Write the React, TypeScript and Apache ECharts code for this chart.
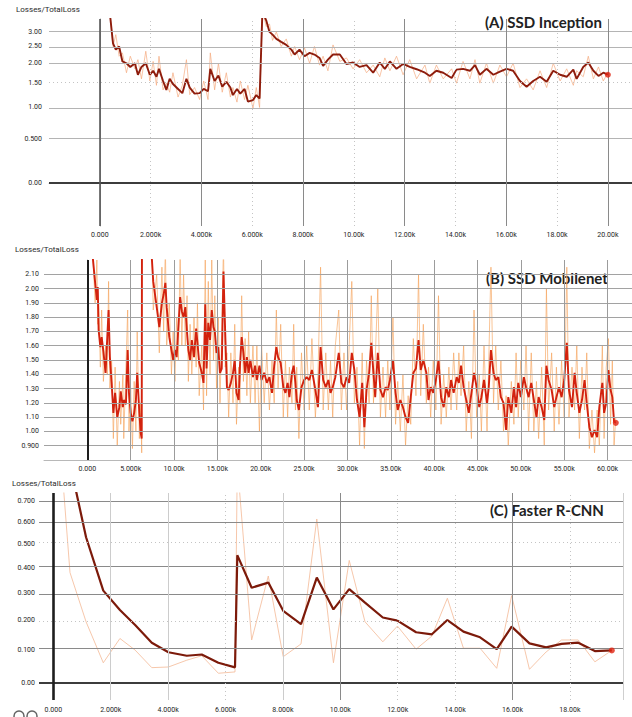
import React, { useEffect, useRef } from "react";
import * as echarts from "echarts";

// ---------- Panel A : SSD Inception (x in thousands of steps) ----------
const aX = [
  0.39, 0.52, 0.63, 0.76, 0.89, 1.05, 1.2, 1.38, 1.5, 1.64,
  1.81, 1.97, 2.1, 2.23, 2.33, 2.49, 2.62, 2.75, 2.88, 3.08,
  3.25, 3.41, 3.54, 3.73, 3.93, 4.09, 4.26, 4.35, 4.52, 4.67,
  4.82, 4.98, 5.14, 5.24, 5.4, 5.53, 5.7, 5.83, 6.03, 6.16,
  6.29, 6.4, 6.55, 6.68, 6.8, 6.95, 7.14, 7.34, 7.54, 7.67,
  7.86, 8.06, 8.26, 8.45, 8.65, 8.79, 8.98, 9.18, 9.45, 9.71,
  9.97, 10.23, 10.5, 10.76, 11.02, 11.22, 11.42, 11.68, 11.94, 12.2,
  12.47, 12.8, 12.99, 13.25, 13.52, 13.85, 14.04, 14.3, 14.57, 14.77,
  14.96, 15.22, 15.49, 15.75, 16.01, 16.27, 16.54, 16.8, 17.06, 17.33,
  17.59, 17.85, 18.12, 18.38, 18.64, 18.77, 19.03, 19.23, 19.43, 19.63,
  19.82, 20.0,
];
const aSmooth = [
  3.8, 2.6, 2.4, 2.5, 2.05, 2.0, 1.9, 2.0, 1.7, 1.9,
  2.0, 1.7, 1.8, 1.65, 1.85, 1.55, 1.35, 1.6, 1.48, 1.37,
  1.28, 1.6, 1.4, 1.27, 1.28, 1.37, 1.32, 1.85, 1.55, 1.68,
  1.42, 1.53, 1.4, 1.24, 1.37, 1.27, 1.37, 1.11, 1.14, 1.24,
  1.17, 3.8, 3.45, 3.0, 2.9, 2.75, 2.65, 2.55, 2.4, 2.25,
  2.4, 2.2, 2.3, 2.25, 2.15, 1.93, 2.1, 2.25, 2.25, 1.98,
  2.02, 1.9, 1.95, 1.75, 2.02, 1.85, 2.05, 1.85, 1.98, 1.9,
  1.84, 1.75, 1.67, 1.8, 1.75, 1.62, 1.83, 1.85, 1.8, 1.95,
  1.7, 1.85, 1.7, 1.78, 1.85, 1.8, 1.55, 1.42, 1.55, 1.65,
  1.53, 1.8, 1.7, 1.65, 1.83, 1.6, 1.9, 2.02, 1.8, 1.67,
  1.75, 1.7,
];
const aRaw = [
  3.9, 2.5, 2.9, 2.2, 2.3, 1.75, 2.2, 1.85, 2.1, 1.6,
  2.35, 1.55, 2.05, 1.45, 2.2, 1.35, 1.5, 1.3, 1.75, 1.2,
  1.45, 2.1, 1.25, 1.4, 1.15, 1.55, 1.15, 2.3, 1.35, 2.0,
  1.3, 1.75, 1.2, 1.4, 1.1, 1.55, 1.15, 1.45, 0.98, 1.4,
  1.0, 3.9, 3.2, 3.3, 2.7, 3.0, 2.5, 2.75, 2.2, 2.5,
  2.1, 2.45, 2.0, 2.5, 1.95, 2.2, 1.8, 2.55, 2.05, 2.15,
  1.85, 2.1, 1.75, 1.95, 1.65, 2.15, 1.8, 2.2, 1.7, 2.1,
  1.6, 1.95, 1.5, 1.95, 1.6, 1.85, 1.5, 2.05, 1.6, 2.1,
  1.5, 2.0, 1.5, 1.95, 1.65, 2.0, 1.4, 1.6, 1.35, 1.8,
  1.4, 2.0, 1.55, 1.85, 1.45, 1.8, 1.65, 2.2, 1.6, 1.9,
  1.55, 1.75,
];
const aYTicks = [0, 0.5, 1, 1.5, 2, 2.5, 3];
const aXTicks = [0, 2, 4, 6, 8, 10, 12, 14, 16, 18, 20];

// ---------- Panel B : SSD Mobilenet ----------
const bX = [
  0.5, 0.9, 1.1, 1.2, 1.3, 1.5, 1.65, 1.85, 2.1, 2.3,
  2.45, 2.6, 2.8, 3.0, 3.2, 3.45, 3.7, 3.85, 4.1, 4.2,
  4.45, 4.65, 4.8, 5.0, 5.2, 5.4, 5.6, 5.75, 6.0, 6.15,
  6.27, 6.3, 7.0, 7.4, 7.6, 8.0, 8.3, 8.6, 8.8, 9.0,
  9.15, 9.45, 9.7, 9.9, 10.1, 10.3, 10.5, 10.7, 10.9, 11.1,
  11.3, 11.5, 11.65, 11.85, 12.05, 12.3, 12.55, 12.7, 12.9, 13.2,
  13.4, 13.6, 13.75, 13.95, 14.15, 14.35, 14.55, 14.7, 14.9, 15.1,
  15.3, 15.5, 15.7, 15.9, 16.1, 16.3, 16.55, 16.8, 17.0, 17.2,
  17.45, 17.6, 17.8, 18.0, 18.2, 18.4, 18.6, 18.8, 19.1, 19.35,
  19.55, 19.85, 20.1, 20.4, 20.7, 21.0, 21.3, 21.55, 21.8, 22.0,
  22.3, 22.6, 22.85, 23.1, 23.3, 23.6, 23.8, 24.0, 24.15, 24.4,
  24.7, 25.0, 25.3, 25.6, 25.9, 26.3, 26.6, 26.9, 27.2, 27.5,
  27.8, 28.05, 28.3, 28.6, 29.0, 29.3, 29.6, 29.9, 30.2, 30.5,
  30.8, 31.1, 31.4, 31.7, 31.95, 32.2, 32.5, 32.75, 33.0, 33.2,
  33.5, 33.8, 34.1, 34.4, 34.65, 34.9, 35.25, 35.55, 35.8, 36.1,
  36.4, 36.7, 37.0, 37.3, 37.6, 37.9, 38.2, 38.45, 38.75, 39.1,
  39.35, 39.6, 39.9, 40.2, 40.5, 40.8, 41.1, 41.4, 41.7, 41.95,
  42.25, 42.6, 42.85, 43.1, 43.4, 43.7, 44.0, 44.3, 44.6, 44.9,
  45.2, 45.45, 45.75, 46.1, 46.3, 46.55, 46.85, 47.1, 47.4, 47.7,
  48.0, 48.3, 48.55, 48.9, 49.2, 49.45, 49.7, 50.0, 50.35, 50.6,
  50.9, 51.2, 51.5, 51.8, 52.05, 52.4, 52.7, 52.95, 53.2, 53.55,
  53.85, 54.1, 54.4, 54.7, 55.0, 55.3, 55.55, 55.9, 56.2, 56.45,
  56.75, 57.05, 57.35, 57.6, 57.9, 58.2, 58.5, 58.8, 59.05, 59.4,
  59.6, 59.85, 60.1, 60.35, 60.55, 60.75, 60.95,
];
const bSmooth = [
  2.3, 2.04, 1.92, 2.01, 1.71, 1.59, 1.66, 1.56, 1.41, 1.66,
  1.85, 1.52, 1.34, 1.13, 1.27, 1.1, 1.17, 1.28, 1.17, 1.22,
  1.19, 1.57, 1.27, 1.13, 1.07, 1.13, 1.22, 1.41, 1.13, 0.99,
  0.95, 2.4, 2.5, 2.25, 2.05, 1.87, 1.73, 1.9, 1.96, 2.04,
  1.87, 1.66, 1.57, 1.5, 1.57, 1.52, 1.73, 1.94, 1.84, 1.8,
  1.87, 1.69, 1.57, 1.5, 1.64, 1.52, 1.72, 1.62, 1.48, 1.41,
  1.34, 1.89, 1.44, 1.76, 1.64, 1.85, 1.73, 1.7, 1.55, 1.59,
  1.41, 1.44, 2.12, 1.69, 1.31, 1.29, 1.34, 1.41, 1.5, 1.27,
  1.22, 1.46, 1.66, 1.55, 1.41, 1.52, 1.41, 1.5, 1.38, 1.46,
  1.36, 1.46, 1.36, 1.41, 1.34, 1.38, 1.27, 1.46, 1.59, 1.52,
  1.48, 1.31, 1.27, 1.34, 1.24, 1.41, 1.46, 1.34, 1.22, 1.15,
  1.31, 1.36, 1.38, 1.36, 1.43, 1.29, 1.17, 1.59, 1.36, 1.31,
  1.36, 1.27, 1.31, 1.38, 1.55, 1.34, 1.31, 1.38, 1.34, 1.55,
  1.43, 1.22, 1.1, 1.34, 1.03, 1.29, 1.41, 1.62, 1.41, 1.24,
  1.55, 1.29, 1.24, 1.31, 1.29, 1.36, 1.5, 1.27, 1.15, 1.22,
  1.17, 1.1, 1.06, 1.24, 1.41, 1.44, 1.64, 1.43, 1.5, 1.41,
  1.22, 1.31, 1.27, 1.36, 1.5, 1.24, 1.17, 1.31, 1.24, 1.36,
  1.27, 1.38, 1.34, 1.46, 1.31, 1.22, 1.13, 1.27, 1.41, 1.31,
  1.17, 1.24, 1.36, 1.2, 1.31, 1.57, 1.41, 1.36, 1.38, 1.24,
  1.2, 1.01, 1.24, 1.13, 1.31, 1.17, 1.34, 1.24, 1.38, 1.31,
  1.24, 1.34, 1.22, 1.1, 1.24, 1.17, 1.08, 1.46, 1.36, 1.29,
  1.17, 1.24, 1.31, 1.24, 1.36, 1.62, 1.29, 1.17, 1.41, 1.27,
  1.13, 1.22, 1.36, 1.2, 1.03, 0.96, 1.01, 0.96, 1.17, 1.34,
  1.13, 1.2, 1.43, 1.29, 1.24, 1.07, 1.06,
];
const bRaw = [
  2.4, 1.9, 2.2, 1.75, 1.9, 1.45, 1.85, 1.35, 1.6, 1.4,
  2.05, 1.3, 1.5, 0.95, 1.45, 0.9, 1.35, 1.05, 1.4, 0.95,
  1.45, 1.85, 1.0, 1.3, 0.88, 1.35, 1.0, 1.7, 0.95, 1.2,
  0.85, 2.4, 2.5, 2.4, 1.85, 2.1, 1.55, 2.15, 1.7, 2.3,
  1.6, 1.9, 1.4, 1.7, 1.35, 1.8, 1.5, 2.25, 1.6, 2.1,
  1.6, 1.95, 1.35, 1.75, 1.4, 1.8, 1.45, 1.9, 1.25, 1.6,
  1.15, 2.2, 1.25, 2.05, 1.4, 2.2, 1.5, 1.95, 1.3, 1.8,
  1.2, 1.7, 2.3, 1.45, 1.55, 1.1, 1.55, 1.2, 1.75, 1.05,
  1.45, 1.2, 1.95, 1.35, 1.65, 1.25, 1.7, 1.2, 1.6, 1.2,
  1.6, 1.0, 1.6, 1.2, 1.55, 1.15, 1.5, 1.2, 1.85, 1.3,
  1.75, 1.1, 1.5, 1.1, 1.45, 1.2, 1.75, 1.15, 1.45, 0.95,
  1.55, 1.15, 1.6, 1.15, 1.65, 1.1, 1.4, 2.15, 1.15, 1.55,
  1.15, 1.5, 1.1, 1.6, 1.85, 1.15, 1.55, 1.15, 1.6, 2.05,
  1.2, 1.45, 0.9, 1.55, 0.88, 1.5, 1.2, 1.95, 1.2, 1.5,
  2.0, 1.1, 1.45, 1.1, 1.5, 1.15, 1.8, 1.05, 1.35, 1.0,
  1.4, 0.9, 1.25, 1.05, 1.65, 1.25, 2.1, 1.25, 1.75, 1.2,
  1.45, 1.1, 1.5, 1.15, 1.95, 1.05, 1.4, 1.1, 1.45, 1.15,
  1.55, 1.15, 1.55, 1.25, 1.6, 1.0, 1.35, 0.95, 1.85, 1.1,
  1.4, 1.0, 1.6, 1.0, 1.5, 2.15, 1.2, 1.6, 1.15, 1.5,
  1.0, 1.25, 0.9, 1.35, 1.05, 1.55, 1.1, 1.5, 1.15, 1.6,
  1.0, 1.55, 1.0, 1.35, 0.95, 1.45, 0.9, 2.0, 1.15, 1.55,
  1.0, 1.45, 1.05, 1.5, 1.1, 2.15, 1.1, 1.45, 1.15, 1.6,
  0.95, 1.45, 1.15, 1.55, 0.88, 1.15, 0.85, 1.15, 0.9, 1.6,
  0.95, 1.45, 1.65, 1.05, 1.5, 0.9, 1.1,
];
const bYTicks = [0.9, 1.0, 1.1, 1.2, 1.3, 1.4, 1.5, 1.6, 1.7, 1.8, 1.9, 2.0, 2.1];
const bXTicks = [0, 5, 10, 15, 20, 25, 30, 35, 40, 45, 50, 55, 60];

// ---------- Panel C : Faster R-CNN ----------
const cX = [
  0, 0.58, 1.14, 1.74, 2.32, 2.85, 3.43, 4.01, 4.65, 5.17,
  5.75, 6.33, 6.41, 6.91, 7.49, 8.01, 8.63, 9.18, 9.76, 10.31,
  10.86, 11.48, 11.99, 12.64, 13.19, 13.73, 14.29, 14.87, 15.45, 15.97,
  16.59, 17.17, 17.71, 18.29, 18.87, 19.46,
];
const cSmooth = [
  1.6, 0.9, 0.53, 0.309, 0.237, 0.184, 0.124, 0.093, 0.082, 0.086,
  0.06, 0.046, 0.452, 0.32, 0.34, 0.234, 0.187, 0.36, 0.239, 0.315,
  0.264, 0.21, 0.199, 0.159, 0.152, 0.201, 0.161, 0.142, 0.103, 0.178,
  0.122, 0.109, 0.12, 0.124, 0.097, 0.099,
];
const cRaw = [
  1.6, 0.38, 0.195, 0.06, 0.138, 0.1, 0.045, 0.047, 0.068, 0.082,
  0.028, 0.032, 0.9, 0.133, 0.366, 0.079, 0.12, 0.614, 0.06, 0.43,
  0.195, 0.127, 0.18, 0.103, 0.146, 0.28, 0.106, 0.106, 0.043, 0.29,
  0.04, 0.094, 0.133, 0.133, 0.063, 0.099,
];
const cYTicks = [0, 0.1, 0.2, 0.3, 0.4, 0.5, 0.6, 0.7];
const cXTicks = [0, 2, 4, 6, 8, 10, 12, 14, 16, 18];

const axisTitle = "Losses/TotalLoss";
const panelTitles = ["(A) SSD Inception", "(B) SSD Mobilenet", "(C) Faster R-CNN"];

// ---------- helpers ----------
const T = (v: number) => Math.log1p(v); // TensorBoard-like log(1+y) scale
const yFmt = (v: number) => {
  if (Math.abs(v) < 1e-9) return "0.00";
  if (v < 1 - 1e-9) return v.toFixed(3);
  return v.toFixed(2);
};
const xFmt = (k: number) => {
  if (Math.abs(k) < 1e-9) return "0.000";
  if (k < 10) return k.toFixed(3) + "k";
  return k.toFixed(2) + "k";
};
const zip = (xs: number[], ys: number[], f: (v: number) => number = (v) => v) => {
  const n = Math.min(xs.length, ys.length);
  const out: number[][] = [];
  for (let i = 0; i < n; i++) out.push([xs[i], f(ys[i])]);
  return out;
};

const LABEL = { fontSize: 7, color: "#1e1e1e", fontFamily: "Roboto" };
const solid = (color: string, width: number) => ({ color, width, type: "solid" });
const LIGHT = solid("#b4b4b4", 1);
const MID = solid("#8a8a8a", 1);
const DOT = { color: "#c4c4c4", width: 1, type: [1, 3] };
const ZERO = solid("#3c3c3c", 2.2);

function gridSeries(idx: number, h: any[], v: any[]) {
  return {
    type: "line",
    xAxisIndex: idx,
    yAxisIndex: idx,
    data: [],
    silent: true,
    z: 1,
    markLine: {
      silent: true,
      symbol: ["none", "none"],
      label: { show: false },
      animation: false,
      lineStyle: { type: "solid" },
      data: [
        ...h.map(([y, s]) => ({ yAxis: y, lineStyle: s })),
        ...v.map(([x, s]) => ({ xAxis: x, lineStyle: s })),
      ],
    },
  };
}

function lineSeries(idx: number, data: number[][], color: string, width: number, opacity: number, z: number) {
  return {
    type: "line",
    xAxisIndex: idx,
    yAxisIndex: idx,
    data,
    showSymbol: false,
    symbol: "none",
    clip: true,
    silent: true,
    z,
    lineStyle: { color, width, opacity },
  };
}

function endDot(idx: number, pt: number[]) {
  return {
    type: "scatter",
    xAxisIndex: idx,
    yAxisIndex: idx,
    data: [pt],
    symbolSize: 6,
    z: 5,
    silent: true,
    itemStyle: { color: "#e0220f" },
  };
}

function buildOption() {
  const aH = aYTicks.map((v) => [T(v), v === 0 ? ZERO : v === 1.5 ? DOT : LIGHT]);
  const aV = aXTicks.map((x) => [x, x === 0 ? solid("#555", 1.6) : x % 4 === 0 ? MID : DOT]);
  const bH = bYTicks.map((v) => [v, solid("#a2a2a2", 1)]);
  const bV = bXTicks.map((x) => [x, x === 0 ? solid("#1e1e1e", 2) : solid("#9c9c9c", 1)]);
  const cH = cYTicks.map((v) => [
    T(v),
    v === 0 ? ZERO : Math.abs(v - 0.5) < 1e-6 || Math.abs(v - 0.2) < 1e-6 ? DOT : MID,
  ]);
  const cV = [
    ...cXTicks.map((x) => [
      x,
      x === 0 ? solid("#1e1e1e", 2.6) : x === 10 || x === 16 ? MID : x === 2 || x === 4 || x === 8 ? solid("#cccccc", 1) : DOT,
    ]),
    [19.85, solid("#cfcfcf", 1)],
  ];

  const lastA = aX.length - 1;
  const lastB = bX.length - 1;
  const lastC = cX.length - 1;

  return {
    animation: false,
    backgroundColor: "#ffffff",
    grid: [
      { left: 49, top: 19, width: 583, height: 207 },
      { left: 44, top: 260, width: 588, height: 200 },
      { left: 39, top: 493, width: 584, height: 207 },
    ],
    xAxis: [
      {
        gridIndex: 0, type: "value", min: -2, max: 20.95,
        axisLine: { show: true, lineStyle: { color: "#c6c6c6" } },
        axisTick: { show: false }, splitLine: { show: false },
        axisLabel: { ...LABEL, customValues: aXTicks, formatter: xFmt, margin: 5 },
      },
      {
        gridIndex: 1, type: "value", min: -5, max: 62.82,
        axisLine: { show: true, lineStyle: { color: "#b8b8b8" } },
        axisTick: { show: false }, splitLine: { show: false },
        axisLabel: { ...LABEL, customValues: bXTicks, formatter: xFmt, margin: 5 },
      },
      {
        gridIndex: 2, type: "value", min: -0.5, max: 19.85,
        axisLine: { show: false },
        axisTick: { show: false }, splitLine: { show: false },
        axisLabel: { ...LABEL, customValues: cXTicks, formatter: xFmt, margin: 6 },
      },
    ],
    yAxis: [
      {
        gridIndex: 0, type: "value", min: -0.3945, max: 1.5046,
        axisLine: { show: true, lineStyle: { color: "#a8a8a8" } },
        axisTick: { show: false }, splitLine: { show: false },
        axisLabel: { ...LABEL, customValues: aYTicks.map(T), formatter: (t: number) => yFmt(Math.expm1(t)), margin: 7 },
      },
      {
        gridIndex: 1, type: "value", min: 0.8, max: 2.2,
        axisLine: { show: true, lineStyle: { color: "#b0b0b0" } },
        axisTick: { show: false }, splitLine: { show: false },
        axisLabel: { ...LABEL, customValues: bYTicks, formatter: (v: number) => yFmt(v), margin: 5 },
      },
      {
        gridIndex: 2, type: "value", min: -0.0506, max: 0.5547,
        axisLine: { show: false },
        axisTick: { show: false }, splitLine: { show: false },
        axisLabel: { ...LABEL, customValues: cYTicks.map(T), formatter: (t: number) => yFmt(Math.expm1(t)), margin: 4 },
      },
    ],
    series: [
      gridSeries(0, aH, aV),
      lineSeries(0, zip(aX, aRaw, T), "#f4a77a", 0.9, 0.75, 2),
      lineSeries(0, zip(aX, aSmooth, T), "#8e1c0c", 1.9, 1, 3),
      endDot(0, [aX[lastA], T(aSmooth[lastA])]),

      gridSeries(1, bH, bV),
      lineSeries(1, zip(bX, bRaw), "#f6a25a", 0.8, 0.8, 2),
      lineSeries(1, zip(bX, bSmooth), "#d2220e", 1.9, 1, 3),
      endDot(1, [bX[lastB], bSmooth[lastB]]),

      gridSeries(2, cH, cV),
      lineSeries(2, zip(cX, cRaw, T), "#f4bd9c", 1, 0.85, 2),
      lineSeries(2, zip(cX, cSmooth, T), "#7c1a0a", 2.2, 1, 3),
      endDot(2, [cX[lastC], T(cSmooth[lastC])]),
    ],
    graphic: [
      { type: "text", left: 16, top: 5, silent: true, style: { text: axisTitle, fontSize: 8, fill: "#2a2a2a", fontFamily: "Roboto" } },
      { type: "text", left: 15, top: 245, silent: true, style: { text: axisTitle, fontSize: 8, fill: "#2a2a2a", fontFamily: "Roboto" } },
      { type: "text", left: 12, top: 479, silent: true, style: { text: axisTitle, fontSize: 8, fill: "#2a2a2a", fontFamily: "Roboto" } },
      { type: "text", left: 485, top: 14, silent: true, style: { text: panelTitles[0], fontSize: 15, fontWeight: "bold", fill: "#222", fontFamily: "Lato" } },
      { type: "text", left: 486, top: 270, silent: true, style: { text: panelTitles[1], fontSize: 15, fontWeight: "bold", fill: "#222", fontFamily: "Lato" } },
      { type: "text", left: 490, top: 502, silent: true, style: { text: panelTitles[2], fontSize: 15, fontWeight: "bold", fill: "#222", fontFamily: "Lato" } },
      { type: "circle", silent: true, shape: { cx: 19, cy: 716, r: 5 }, style: { fill: "none", stroke: "#666", lineWidth: 1.5 } },
      { type: "circle", silent: true, shape: { cx: 32, cy: 716, r: 5 }, style: { fill: "none", stroke: "#666", lineWidth: 1.5 } },
    ],
  };
}

export default function App() {
  const ref = useRef<HTMLDivElement>(null);
  useEffect(() => {
    if (!ref.current) return;
    const chart = echarts.init(ref.current, null, { renderer: "svg" });
    chart.setOption(buildOption() as any);
    return () => chart.dispose();
  }, []);
  return (
    <div
      ref={ref}
      style={{ position: "absolute", left: 0, top: 0, width: 632, height: 717, background: "#fff" }}
    />
  );
}
